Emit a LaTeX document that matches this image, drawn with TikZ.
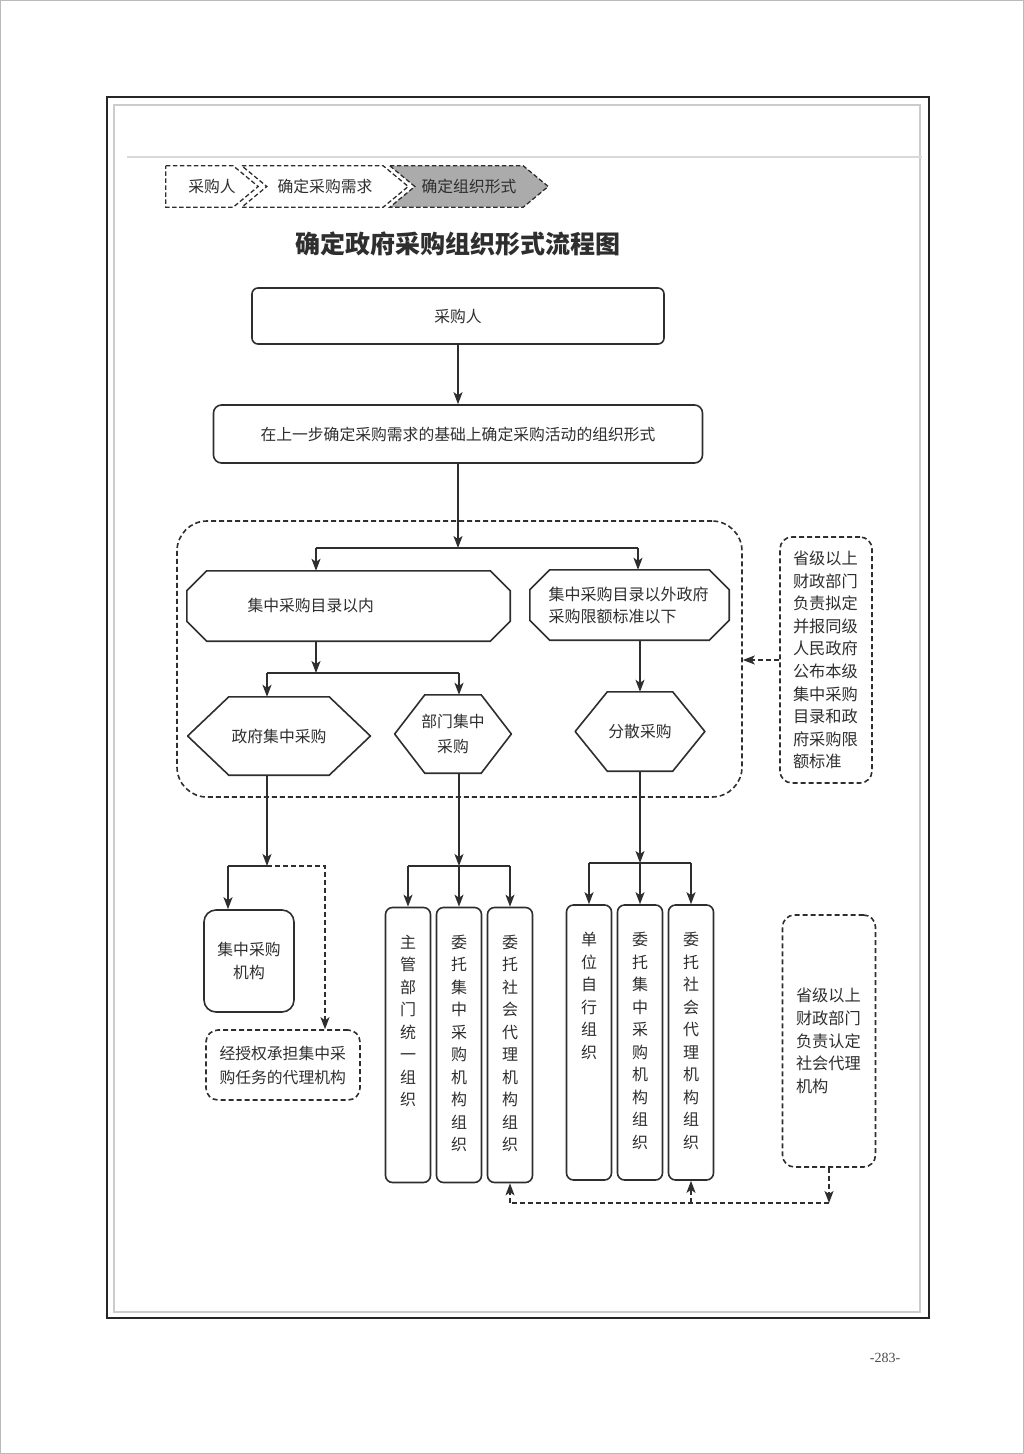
\documentclass[tikz,border=0pt]{standalone}
\usepackage{fontspec}
\setmainfont{Noto Sans CJK SC}
\newfontfamily\numfont{Liberation Serif}
\usepackage{tikz}
\usetikzlibrary{positioning}
\usetikzlibrary{arrows.meta,calc}

\definecolor{ink}{HTML}{2E2E2E}
\definecolor{crumbfill}{HTML}{ABABAB}

\pgfdeclarelayer{background}
\pgfsetlayers{background,main}

% outline of a box with cut corners (hexagon when the cut is half the height)
\newcommand{\cutframe}[4][]{%
  \draw[link,#1] ([xshift=#3]#2.north west) -- ([xshift=-#3]#2.north east)
    -- ([yshift=-#4]#2.north east) -- ([yshift=#4]#2.south east)
    -- ([xshift=-#3]#2.south east) -- ([xshift=#3]#2.south west)
    -- ([yshift=#4]#2.south west) -- ([yshift=-#4]#2.north west) -- cycle;}
% outline of a breadcrumb step
\newcommand{\crumbframe}[3][]{%
  \draw[crumbline,#1] (#2.north west) -- ([xshift=-25pt]#2.north east) -- (#2.east)
    -- ([xshift=-25pt]#2.south east) -- (#2.south west) -- ([xshift=#3]#2.west) -- cycle;}
% one character per line, from the top of a column
\newcommand{\stack}[1]{\parbox[c][220pt][t]{18pt}{\centering #1}}

\begin{document}
\begin{tikzpicture}[x=1pt,y=-1pt,
    every node/.style={text=ink,font=\fontsize{15.8}{21}\selectfont},
    box/.style={draw=ink,line width=1.6pt,rounded corners=6pt,inner sep=0pt},
    dashbox/.style={box,dash pattern=on 5pt off 3pt,rounded corners=12pt},
    cut/.style={inner sep=0pt},
    col/.style={box,minimum width=45pt,minimum height=275pt,rounded corners=7pt,
        font=\fontsize{16}{22.5}\selectfont},
    note/.style={dashbox,text width=66pt,align=left,font=\fontsize{16.2}{22.6}\selectfont},
    crumb/.style={inner sep=0pt,minimum height=41pt,font=\fontsize{15.8}{18}\selectfont},
    crumbline/.style={draw=ink,line width=1.3pt,dash pattern=on 4.5pt off 2.5pt},
    link/.style={draw=ink,line width=1.6pt},
    arr/.style={link,-{Stealth[length=12pt,width=9pt,inset=3pt]}},
    dlink/.style={link,dash pattern=on 5pt off 3pt},
    darr/.style={dlink,-{Stealth[length=12pt,width=9pt,inset=3pt]}}
]
\useasboundingbox (0,0) rectangle (1024,1454);

% ---------------- page ----------------
\draw[gray!55,line width=1pt] (0.5,0.5) rectangle (1023.5,1453.5);
\draw[black!85,line width=2.6pt] (107,97) rectangle (929,1318);
\draw[gray!40,line width=1.2pt] (114,105) rectangle (920,1312);
\draw[gray!30,line width=2.5pt] (127,157) -- (922,157);

% ---------------- breadcrumb ----------------
\node[crumb,minimum width=92pt] (s1) at (212,186.5) {采购人};
\node[crumb,minimum width=166pt] (s2) at (325,186.5) {确定采购需求};
\node[crumb,minimum width=158pt] (s3) at (469,186.5) {确定组织形式};
\begin{pgfonlayer}{background}
  \crumbframe{s1}{0pt}
  \crumbframe{s2}{25pt}
  \crumbframe[fill=crumbfill]{s3}{25pt}
\end{pgfonlayer}

\node[font=\fontsize{25}{30}\selectfont\bfseries] (title) at (457.5,244) {确定政府采购组织形式流程图};

% ---------------- upper part ----------------
\node[box,minimum width=412pt,minimum height=56pt] (buyer) at (458,316) {采购人};
\node[box,minimum width=489pt,minimum height=58pt,rounded corners=8pt] (form) at (458,434)
    {在上一步确定采购需求的基础上确定采购活动的组织形式};

\node[dashbox,minimum width=565pt,minimum height=276pt,rounded corners=30pt] (zone) at (459.5,659) {};

\node[cut,minimum width=323pt,minimum height=70pt] (inlist) at (348.5,606)
    {\makebox[250pt][l]{\hspace{24pt}集中采购目录以内}};
\node[cut,minimum width=199pt,minimum height=70pt,text width=162pt,align=left,
    font=\fontsize{16}{22}\selectfont] (outlist) at (629.5,605)
    {集中采购目录以外政府\\采购限额标准以下};
\cutframe{inlist}{20pt}{20pt}
\cutframe{outlist}{20pt}{20pt}

\node[cut,minimum width=182pt,minimum height=78pt] (govc) at (279,736) {政府集中采购};
\node[cut,minimum width=116pt,minimum height=78pt,align=center,
    font=\fontsize{15.8}{25}\selectfont] (deptc) at (453,734) {部门集中\\采购};
\node[cut,minimum width=129pt,minimum height=79pt] (scat) at (640,731.5) {分散采购};
\cutframe{govc}{41pt}{39pt}
\cutframe{deptc}{30pt}{39pt}
\cutframe{scat}{32pt}{39.5pt}

\node[note,minimum width=92pt,minimum height=246pt] (catalog) at (826,660)
    {省级以上\\财政部门\\负责拟定\\并报同级\\人民政府\\公布本级\\集中采购\\目录和政\\府采购限\\额标准};

% ---------------- lower part ----------------
\node[box,minimum width=90pt,minimum height=102pt,rounded corners=12pt,align=center,
    font=\fontsize{15.8}{23}\selectfont] (agency) at (249,961) {集中采购\\机构};
\node[dashbox,minimum width=154pt,minimum height=70pt,text width=127pt,align=left,
    font=\fontsize{15.8}{24}\selectfont] (auth) at (283,1065) {经授权承担集中采\\购任务的代理机构};

\node[col] (dept1) at (408,1045) {\stack{主\\管\\部\\门\\统\\一\\组\\织}};
\node[col] (dept2) at (459,1045) {\stack{委\\托\\集\\中\\采\\购\\机\\构\\组\\织}};
\node[col] (dept3) at (510,1045) {\stack{委\\托\\社\\会\\代\\理\\机\\构\\组\\织}};

\node[col] (self1) at (589,1042.5) {\stack{单\\位\\自\\行\\组\\织}};
\node[col] (self2) at (640,1042.5) {\stack{委\\托\\集\\中\\采\\购\\机\\构\\组\\织}};
\node[col] (self3) at (691,1042.5) {\stack{委\\托\\社\\会\\代\\理\\机\\构\\组\\织}};

\node[note,minimum width=93pt,minimum height=252pt] (certify) at (829,1041)
    {省级以上\\财政部门\\负责认定\\社会代理\\机构};

\node[font=\numfont\fontsize{14}{16}\selectfont,text=gray!60!black] (pageno) at (885,1358) {-283-};

% ---------------- connectors ----------------
\coordinate (j1) at (458,548);
\coordinate (j1l) at (316,548);
\coordinate (j1r) at (638,548);
\coordinate (j2) at (316,673);
\coordinate (j2l) at (267,673);
\coordinate (j2r) at (459,673);
\coordinate (j3) at (267,866);
\coordinate (j3l) at (228,866);
\coordinate (j3r) at (325,866);
\coordinate (j4) at (459,866);
\coordinate (j5) at (640,863);
\coordinate (k) at (829,1203);

\draw[arr] (buyer) -- (form);
\draw[arr] (form) -- (j1);
\draw[link] (j1l) -- (j1r);
\draw[arr] (j1l) -- (j1l |- inlist.north);
\draw[arr] (j1r) -- (j1r |- outlist.north);

\draw[arr] (j2 |- inlist.south) -- (j2);
\draw[link] (j2l) -- (j2r);
\draw[arr] (j2l) -- (j2l |- govc.north);
\draw[arr] (j2r) -- (j2r |- deptc.north);
\draw[arr] (scat.north |- outlist.south) -- (scat.north);

\draw[arr] (j3 |- govc.south) -- (j3);
\draw[link] (j3) -- (j3l);
\draw[arr] (j3l) -- (j3l |- agency.north);
\draw[darr] (j3) -- (j3r) -- (j3r |- auth.north);

\draw[arr] (j4 |- deptc.south) -- (j4);
\draw[link] (dept1 |- j4) -- (dept3 |- j4);
\foreach \n in {dept1,dept2,dept3}
    \draw[arr] (\n |- j4) -- (\n.north);

\draw[arr] (j5 |- scat.south) -- (j5);
\draw[link] (self1 |- j5) -- (self3 |- j5);
\foreach \n in {self1,self2,self3}
    \draw[arr] (\n |- j5) -- (\n.north);

\draw[darr] (catalog.west) -- (catalog.west -| zone.east);

\draw[darr] (certify) -- (k);
\draw[dlink] (k) -- (dept3 |- k);
\draw[darr] (dept3 |- k) -- (dept3.south);
\draw[darr] (self3 |- k) -- (self3.south);

\end{tikzpicture}
\end{document}
